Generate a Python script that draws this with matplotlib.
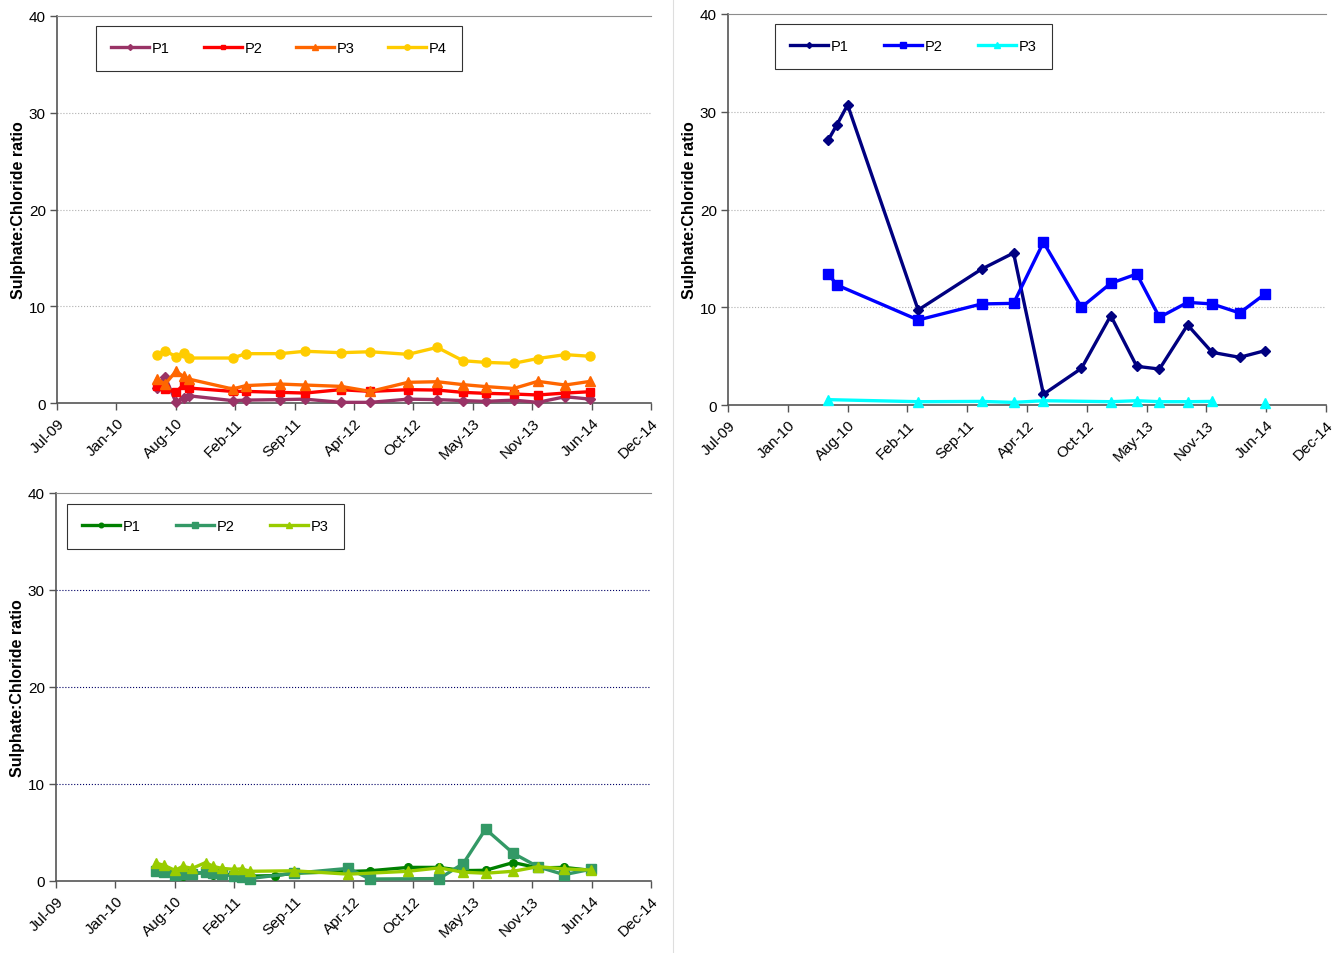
import datetime as dt
import numpy as np
import matplotlib
matplotlib.use("Agg")
import matplotlib.pyplot as plt
import matplotlib.dates as mdates
from matplotlib.lines import Line2D

plt.rcParams["font.family"] = ["Liberation Sans", "DejaVu Sans"]

nan = np.nan

# Piezometer set A
a_dates = ["2010-06-07", "2010-07-05", "2010-08-10", "2010-09-05", "2010-09-22",
           "2011-02-17", "2011-04-03", "2011-07-27", "2011-10-19", "2012-02-16",
           "2012-05-26", "2012-09-30", "2013-01-06", "2013-04-03", "2013-06-18",
           "2013-09-20", "2013-12-11", "2014-03-13", "2014-06-06"]
a_p1 = [1.55, 2.7, 0.1, 0.5, 0.75, 0.25, 0.3, 0.35, 0.4, 0.07,
        0.07, 0.4, 0.35, 0.25, 0.17, 0.3, 0.07, 0.65, 0.4]
a_p2 = [1.8, 1.45, 1.1, 1.9, 1.55, 1.2, 1.2, 1.1, 1.03, 1.38,
        1.2, 1.38, 1.34, 1.1, 1.0, 0.93, 0.83, 1.03, 1.17]
a_p3 = [2.48, 1.96, 3.27, 2.75, 2.48, 1.45, 1.8, 1.96, 1.86, 1.72,
        1.2, 2.14, 2.2, 1.9, 1.7, 1.5, 2.24, 1.86, 2.24]
a_p4 = [5.0, 5.4, 4.8, 5.2, 4.65, 4.65, 5.1, 5.1, 5.35, 5.2,
        5.3, 5.03, 5.75, 4.37, 4.2, 4.1, 4.6, 5.0, 4.83]

# Piezometer set B
b_dates = ["2010-06-07", "2010-07-05", "2010-08-10", "2011-04-03", "2011-11-01",
           "2012-02-16", "2012-05-26", "2012-09-30", "2013-01-06", "2013-04-03",
           "2013-06-18", "2013-09-20", "2013-12-11", "2014-03-13", "2014-06-06"]
b_p1 = [27.15, 28.66, 30.7, 9.72, 13.9, 15.55, 1.1, 3.75, 9.14, 3.96,
        3.68, 8.19, 5.39, 4.88, 5.56]
b_p2 = [13.4, 12.28, nan, 8.7, 10.34, 10.4, 16.65, 10.0, 12.45, 13.4,
        8.97, 10.5, 10.34, 9.42, 11.36]
b_p3 = [0.55, nan, nan, 0.34, 0.37, 0.27, 0.44, nan, 0.34, 0.44,
        0.34, 0.34, 0.37, nan, 0.2]
b_p3_break = "2014-06-06"   # blank cell before this reading, line not joined

# Piezometer set C
c_dates = ["2010-06-07", "2010-07-05", "2010-08-10", "2010-09-05", "2010-10-07",
           "2010-11-21", "2010-12-17", "2011-01-14", "2011-02-25", "2011-03-22",
           "2011-04-19", "2011-07-12", "2011-09-14", "2012-03-15", "2012-05-26",
           "2012-10-02", "2013-01-14", "2013-04-05", "2013-06-19", "2013-09-20",
           "2013-12-13", "2014-03-10", "2014-06-07"]
c_p1 = [1.1, 1.0, 0.7, 0.55, 0.8, 0.85, 0.65, 0.8, 0.55, 0.6, 0.5, 0.55,
        0.8, nan, 1.05, 1.4, 1.4, 1.07, 1.1, 1.9, 1.35, 1.4, 1.1]
c_p2 = [1.05, 0.9, 0.65, 0.75, 0.7, 0.95, 0.8, 0.7, 0.5, 0.4, 0.25, nan,
        0.8, 1.3, 0.2, nan, 0.25, 1.8, 5.35, 2.85, 1.45, 0.65, 1.2]
c_p3 = [1.85, 1.6, 1.1, 1.5, 1.3, 1.9, 1.5, 1.3, 1.2, 1.25, 1.0, nan,
        1.05, 0.7, nan, 1.0, 1.35, 0.9, 0.8, 1.0, 1.48, 1.24, 1.13]

ylabel = "Sulphate:Chloride ratio"
x_start = dt.date(2009, 7, 6)
tick_step_days = 200
n_ticks = 11


def to_num(dates):
    return mdates.datestr2num(dates)


def draw_series(ax, dates, vals, color, marker, ms, label, break_at=None):
    x = to_num(dates)
    y = np.array(vals, dtype=float)
    ok = ~np.isnan(y)
    xs, ys = x[ok], y[ok]
    if break_at is not None:
        cut = np.searchsorted(xs, mdates.datestr2num(break_at))
        segs = [(xs[:cut], ys[:cut]), (xs[cut:], ys[cut:])]
    else:
        segs = [(xs, ys)]
    for i, (sx, sy) in enumerate(segs):
        ax.plot(sx, sy, color=color, lw=2.4, marker=marker, ms=ms,
                mec=color, mfc=color, label=label if i == 0 else None,
                solid_joinstyle="round", clip_on=False, zorder=3)


def style_axes(ax, grid_color, grid_style):
    t0 = mdates.date2num(x_start)
    ticks = [t0 + tick_step_days * k for k in range(n_ticks)]
    ax.set_xlim(ticks[0], ticks[-1])
    ax.set_xticks(ticks)
    ax.xaxis.set_major_formatter(mdates.DateFormatter("%b-%y"))
    ax.set_ylim(0, 40)
    ax.set_yticks([0, 10, 20, 30, 40])
    for lab in ax.get_xticklabels():
        lab.set_rotation(45)
        lab.set_ha("right")
        lab.set_rotation_mode("anchor")
    ax.tick_params(axis="both", labelsize=11, length=5, width=1,
                   color="#555555", direction="out")
    ax.tick_params(axis="y", pad=3)
    ax.tick_params(axis="x", pad=4)
    ax.spines["right"].set_visible(False)
    ax.spines["top"].set_color("#8c8c8c")
    for s in ("left", "bottom"):
        ax.spines[s].set_color("#555555")
        ax.spines[s].set_linewidth(1.2)
    for yv in (10, 20, 30):
        ax.axhline(yv, color=grid_color, lw=0.8, ls=grid_style, zorder=1)
    ax.set_ylabel(ylabel, fontsize=11.5, fontweight="bold", labelpad=2)


def add_legend(ax, x, y, colsp):
    leg = ax.legend(loc="upper left", bbox_to_anchor=(x, y), ncol=4,
                    fontsize=10.5, frameon=True, fancybox=False,
                    edgecolor="black", borderpad=1.05, borderaxespad=0,
                    handlelength=2.6, handletextpad=0.2,
                    columnspacing=colsp, markerscale=0.6)
    leg.get_frame().set_linewidth(0.8)


fig = plt.figure(figsize=(13.39, 9.54), dpi=100)

ax1 = fig.add_axes([0.0426, 0.5765, 0.4436, 0.4057])
style_axes(ax1, "#b0b0b0", ":")
draw_series(ax1, a_dates, a_p1, "#993366", "D", 5, "P1")
draw_series(ax1, a_dates, a_p2, "#FF0000", "s", 6, "P2")
draw_series(ax1, a_dates, a_p3, "#FF6600", "^", 7, "P3")
draw_series(ax1, a_dates, a_p4, "#FFCC00", "o", 6.5, "P4")
add_legend(ax1, 0.0657, 0.974, 2.3)

ax2 = fig.add_axes([0.5437, 0.5744, 0.4466, 0.4099])
style_axes(ax2, "#b0b0b0", ":")
draw_series(ax2, b_dates, b_p1, "#000080", "D", 5, "P1")
draw_series(ax2, b_dates, b_p2, "#0000FF", "s", 6.5, "P2")
draw_series(ax2, b_dates, b_p3, "#00FFFF", "^", 7, "P3", break_at=b_p3_break)
add_legend(ax2, 0.0786, 0.974, 2.4)

ax3 = fig.add_axes([0.0418, 0.0755, 0.4444, 0.4067])
style_axes(ax3, "#000066", ":")
draw_series(ax3, c_dates, c_p1, "#008000", "o", 5.5, "P1")
draw_series(ax3, c_dates, c_p2, "#339966", "s", 6.5, "P2")
draw_series(ax3, c_dates, c_p3, "#99CC00", "^", 7, "P3")
add_legend(ax3, 0.0185, 0.9716, 2.4)

# thin divider between the two columns
fig.add_artist(Line2D([673 / 1339, 673 / 1339], [0, 1], color="#dedede",
                      lw=0.8, transform=fig.transFigure))

fig.savefig("out.png", dpi=100)
